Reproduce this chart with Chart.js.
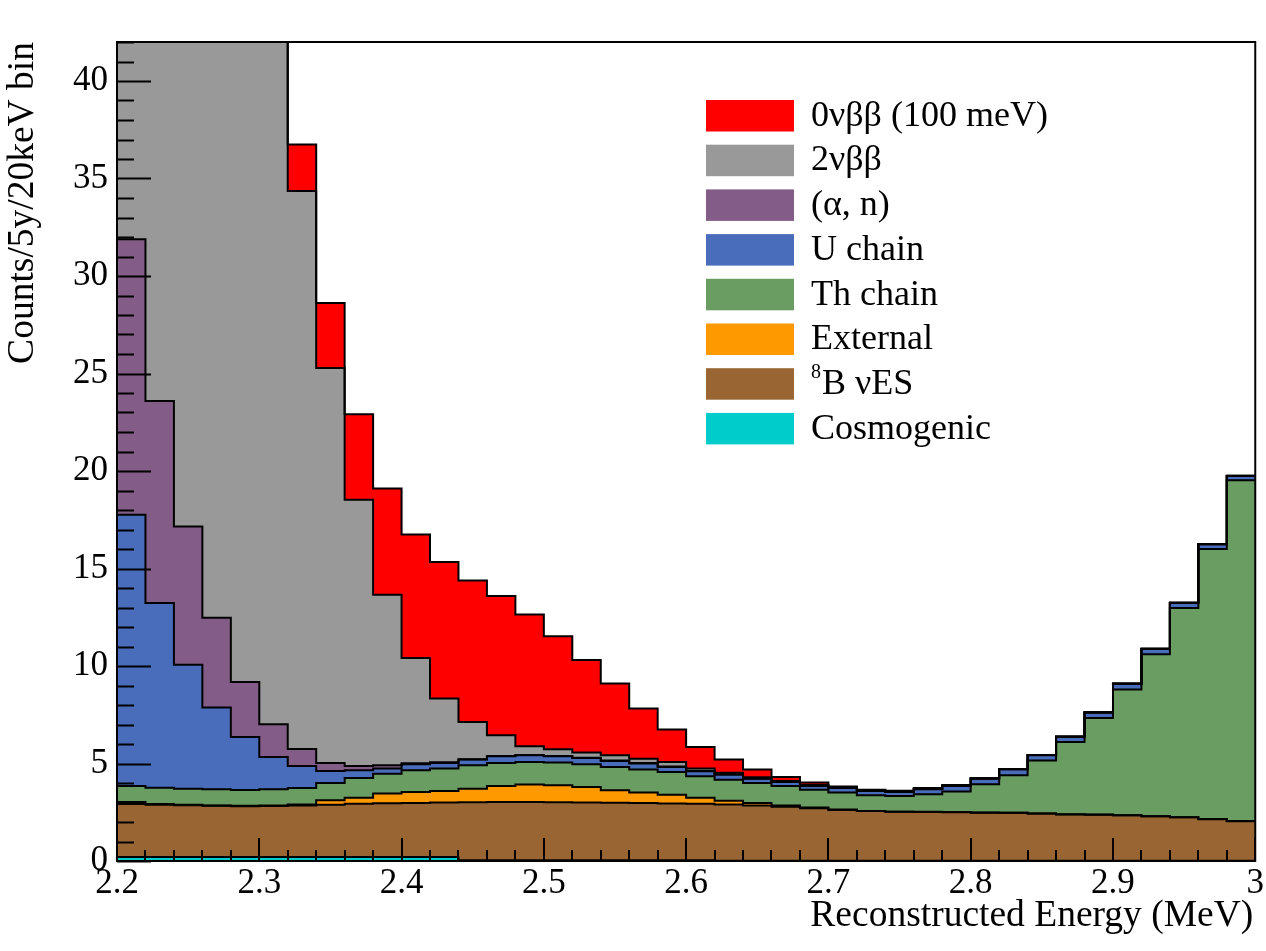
<!DOCTYPE html>
<html>
<head>
<meta charset="utf-8">
<title>ROI background stack</title>
<script src="https://cdn.jsdelivr.net/npm/chart.js@4.4.1/dist/chart.umd.min.js"></script>
<style>
  html, body { margin: 0; padding: 0; background: #fff; }
  #wrap { width: 1266px; height: 951px; }
</style>
</head>
<body>
<div id="wrap"><canvas id="stackChart" width="1266" height="951"></canvas></div>
<script>
// binning: 40 bins of 20 keV from 2.2 to 3.0 MeV
const binStart = 2.2;
const binWidth = 0.02;
const nBins = 40;

const xTicks = [2.2, 2.3, 2.4, 2.5, 2.6, 2.7, 2.8, 2.9, 3.0];
const yTicks = [0, 5, 10, 15, 20, 25, 30, 35, 40];

// counts per bin for each component, stacked bottom to top
const cosmogenic = [0.20, 0.20, 0.20, 0.20, 0.20, 0.20, 0.20, 0.20, 0.20, 0.20,
                    0.20, 0.20, 0.04, 0.04, 0.04, 0.04, 0.04, 0.04, 0.04, 0.04,
                    0.04, 0.01, 0.01, 0.01, 0.01, 0.01, 0.01, 0.01, 0.01, 0.01,
                    0.01, 0.01, 0.01, 0.01, 0.01, 0.01, 0.01, 0.01, 0.01, 0.01];
const boron8 = [2.72, 2.69, 2.66, 2.63, 2.61, 2.62, 2.65, 2.69, 2.73, 2.76,
                2.78, 2.80, 2.97, 2.98, 2.98, 2.97, 2.96, 2.95, 2.93, 2.91,
                2.89, 2.89, 2.84, 2.77, 2.69, 2.61, 2.55, 2.51, 2.50, 2.49,
                2.47, 2.46, 2.42, 2.38, 2.36, 2.33, 2.28, 2.23, 2.13, 2.03];
const external = [0.10, 0.03, 0.02, 0.02, 0.02, 0.02, 0.05, 0.22, 0.32, 0.50,
                  0.56, 0.59, 0.70, 0.83, 0.90, 0.87, 0.80, 0.64, 0.54, 0.45,
                  0.32, 0.19, 0.12, 0.07, 0.04, 0.02, 0.01, 0.01, 0.01, 0.01,
                  0.01, 0.01, 0.01, 0.01, 0.01, 0.01, 0.01, 0.01, 0.01, 0.01];
const thChain = [0.83, 0.84, 0.83, 0.83, 0.81, 0.84, 0.84, 0.89, 1.01, 1.02,
                 1.11, 1.15, 1.20, 1.18, 1.16, 1.17, 1.16, 1.19, 1.18, 1.16,
                 1.09, 1.08, 1.03, 1.00, 0.92, 0.87, 0.80, 0.80, 0.90, 1.06,
                 1.44, 1.92, 2.72, 3.70, 4.95, 6.44, 8.30, 10.72, 13.85, 17.47];
const uChain = [13.91, 9.47, 6.36, 4.19, 2.72, 1.65, 1.13, 0.62, 0.39, 0.26,
                0.31, 0.29, 0.29, 0.34, 0.34, 0.32, 0.32, 0.31, 0.31, 0.26,
                0.26, 0.26, 0.22, 0.20, 0.19, 0.23, 0.22, 0.21, 0.26, 0.28,
                0.29, 0.30, 0.26, 0.26, 0.28, 0.29, 0.27, 0.26, 0.24, 0.22];
const alphaN = [14.12, 10.36, 7.08, 4.61, 2.82, 1.68, 0.87, 0.41, 0.22, 0.17,
                0.05, 0.03, 0.02, 0.02, 0.02, 0.02, 0.02, 0.02, 0.02, 0.02,
                0.01, 0.01, 0.01, 0.01, 0.01, 0.01, 0.01, 0.01, 0.01, 0.01,
                0.01, 0.01, 0.01, 0.01, 0.01, 0.01, 0.01, 0.01, 0.01, 0.01];
const twoNuBB = [133, 106, 84, 66, 51, 38.7, 28.62, 20.25, 13.66, 8.75,
                 5.40, 3.27, 1.91, 1.06, 0.45, 0.34, 0.26, 0.27, 0.23, 0.24,
                 0.14, 0.09, 0.07, 0.04, 0.04, 0.02, 0.02, 0.02, 0.02, 0.02,
                 0.01, 0.01, 0.01, 0.01, 0.01, 0.01, 0.01, 0.01, 0.01, 0.01];
const zeroNuBB = [0.3, 0.5, 0.8, 1.1, 1.5, 1.9, 2.38, 3.34, 4.38, 5.44,
                  6.33, 7.00, 7.26, 7.14, 6.75, 5.79, 4.75, 3.68, 2.57, 1.66,
                  1.10, 0.68, 0.39, 0.21, 0.12, 0.05, 0.04, 0.03, 0.03, 0.02,
                  0.01, 0, 0, 0, 0, 0, 0, 0, 0, 0];

const seriesNames = ['Cosmogenic', '8B \u03bdES', 'External', 'Th chain', 'U chain',
                     '(\u03b1, n)', '2\u03bd\u03b2\u03b2', '0\u03bd\u03b2\u03b2 (100 meV)'];
const seriesValues = [cosmogenic, boron8, external, thChain, uChain, alphaN, twoNuBB, zeroNuBB];
const seriesColors = ['#00cccc', '#996633', '#ff9900', '#6a9d62', '#4a6dbb',
                      '#835d88', '#999999', '#ff0000'];

const fontFamily = '"Liberation Serif", "DejaVu Serif", serif';

// left bin edges with the last value repeated at the upper edge, drawn as steps
function histPoints(values) {
    const pts = values.map((v, i) => ({ x: +(binStart + i * binWidth).toFixed(2), y: v }));
    pts.push({ x: +(binStart + nBins * binWidth).toFixed(2), y: values[values.length - 1] });
    return pts;
}

const datasets = seriesValues.map((vals, i) => ({
    label: seriesNames[i],
    data: histPoints(vals),
    stepped: 'before',
    backgroundColor: seriesColors[i],
    borderColor: '#000',
    borderWidth: 2,
    pointRadius: 0,
    fill: i === 0 ? 'origin' : '-1'
}));

// frame and inward ticks
const frameTicks = {
    id: 'frameTicks',
    afterDatasetsDraw(chart) {
        const { ctx, chartArea: a, scales } = chart;
        const x = scales.x, y = scales.y;
        ctx.save();
        ctx.strokeStyle = '#000';
        ctx.lineWidth = 2;
        ctx.beginPath();
        for (let v = 0; v <= 42; v++) {
            const py = Math.round(y.getPixelForValue(v)) + 0.5;
            const len = v % 5 === 0 ? 34 : 17;
            ctx.moveTo(a.left, py);
            ctx.lineTo(a.left + len, py);
        }
        for (let i = 0; i <= nBins; i++) {
            const px = Math.round(x.getPixelForValue(binStart + i * binWidth));
            const len = i % 5 === 0 ? 23 : 11;
            ctx.moveTo(px, a.bottom);
            ctx.lineTo(px, a.bottom - len);
        }
        ctx.stroke();
        ctx.strokeRect(a.left, a.top, a.right - a.left, a.bottom - a.top);
        ctx.restore();
    }
};

// axis titles and the boxed legend in the upper right
const titlesLegend = {
    id: 'titlesLegend',
    afterDraw(chart) {
        const { ctx, chartArea: a } = chart;
        ctx.save();
        ctx.fillStyle = '#000';
        ctx.font = '37.5px ' + fontFamily;
        ctx.textAlign = 'right';
        ctx.textBaseline = 'alphabetic';
        ctx.fillText('Reconstructed Energy (MeV)', a.right - 2, 926);

        ctx.save();
        ctx.translate(33, a.top);
        ctx.rotate(-Math.PI / 2);
        ctx.fillText('Counts/5y/20keV bin', 0, 0);
        ctx.restore();

        ctx.textAlign = 'left';
        const boxX = 706, boxW = 88, boxH = 31.5, rowTop = 100, rowStep = 44.7;
        const order = datasets.map((d, i) => i).reverse();
        order.forEach((idx, row) => {
            const top = rowTop + row * rowStep;
            ctx.fillStyle = seriesColors[idx];
            ctx.fillRect(boxX, top, boxW, boxH);
            ctx.fillStyle = '#000';
            const base = top + boxH / 2 + 10;
            const label = seriesNames[idx];
            const m = label.match(/^(\d+)([A-Z].*)$/);
            if (m) {
                ctx.font = '20px ' + fontFamily;
                ctx.fillText(m[1], 811, base - 16);
                const w = ctx.measureText(m[1]).width;
                ctx.font = '36px ' + fontFamily;
                ctx.fillText(m[2], 811 + w + 1, base);
            } else {
                ctx.font = '36px ' + fontFamily;
                ctx.fillText(label, 811, base);
            }
        });
        ctx.restore();
    }
};

Chart.defaults.font.family = fontFamily;
Chart.defaults.color = '#000';

const ctx = document.getElementById('stackChart').getContext('2d');
new Chart(ctx, {
    type: 'line',
    data: { datasets: datasets },
    options: {
        responsive: false,
        animation: false,
        devicePixelRatio: 1,
        layout: { padding: { top: 42, right: 9, left: 0, bottom: 0 } },
        scales: {
            x: {
                type: 'linear',
                min: 2.2,
                max: 3.0,
                grid: { display: false, drawTicks: false },
                border: { display: false },
                afterBuildTicks: scale => { scale.ticks = xTicks.map(v => ({ value: v })); },
                afterFit: scale => { scale.height = 90; },
                ticks: {
                    font: { size: 35 },
                    padding: 2,
                    maxRotation: 0,
                    callback: v => String(+(+v).toFixed(1))
                }
            },
            y: {
                stacked: true,
                min: 0,
                max: 42,
                grid: { display: false, drawTicks: false },
                border: { display: false },
                afterBuildTicks: scale => { scale.ticks = yTicks.map(v => ({ value: v })); },
                afterFit: scale => { scale.width = 117; },
                ticks: {
                    font: { size: 35 },
                    padding: 9
                }
            }
        },
        plugins: {
            legend: { display: false },
            tooltip: { enabled: false },
            filler: { drawTime: 'beforeDatasetsDraw' }
        }
    },
    plugins: [frameTicks, titlesLegend]
});
</script>
</body>
</html>
